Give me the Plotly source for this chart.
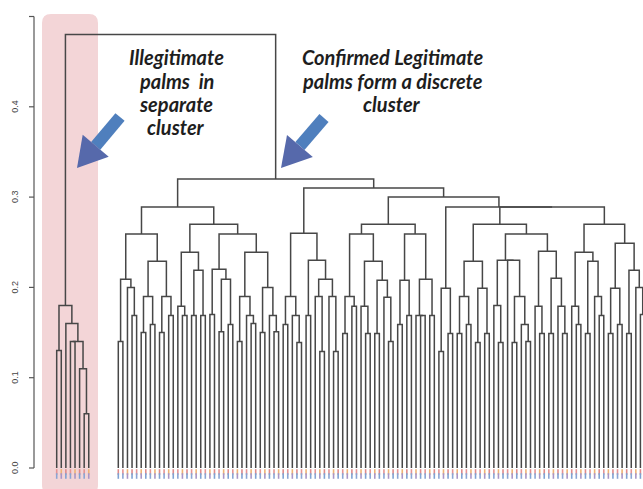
import plotly.graph_objects as go

# Merge heights of the cluster tree: a node is (height, left, right), a leaf is 0.
ILLEGITIMATE = (0.18, (0.13, 0, 0),
                (0.16, 0, (0.14, (0.14, 0, 0), (0.11, 0, (0.06, 0, 0)))))

BRANCH_LL = (0.259,
             (0.209, (0.14, 0, 0), (0.20, 0, (0.169, 0, 0))),
             (0.229, (0.19, (0.15, 0, 0), (0.159, 0, 0)),
                     (0.19, (0.15, 0, 0), (0.169, 0, 0))))

BRANCH_LR = (0.27,
             (0.239, (0.179, 0, (0.169, 0, 0)),
                     (0.219, (0.169, 0, 0), (0.169, 0, 0))),
             (0.259,
              (0.22, (0.17, 0, 0), (0.209, (0.151, 0, 0), (0.159, 0, 0))),
              (0.239,
               (0.19, (0.14, 0, 0), (0.169, 0, (0.16, 0, 0))),
               (0.20, (0.15, 0, 0), (0.169, 0, (0.151, 0, 0))))))

BRANCH_RL = (0.26,
             (0.19, (0.159, 0, 0), (0.169, 0, (0.139, 0, 0))),
             (0.23, (0.169, 0, 0),
                    (0.209, (0.19, 0, (0.129, 0, 0)), (0.19, 0, (0.129, 0, 0)))))

BRANCH_RRL = (0.27,
              (0.259,
               (0.19, (0.149, 0, 0), (0.179, 0, 0)),
               (0.229, (0.179, 0, (0.149, 0, 0)),
                       (0.208, (0.149, 0, 0), (0.189, 0, (0.14, 0, 0))))),
              (0.259,
               (0.208, (0.159, 0, 0), (0.169, 0, 0)),
               (0.209, (0.169, 0, (0.169, 0, 0)), (0.169, 0, 0))))

BRANCH_RRRA = (0.199, (0.129, 0, 0), (0.149, 0, 0))

BRANCH_RRRB = (0.27,
               (0.229, (0.19, (0.149, 0, 0), (0.159, 0, 0)),
                       (0.199, (0.139, 0, 0), (0.149, 0, 0))),
               (0.259,
                (0.23, (0.18, 0, (0.139, 0, 0)),
                       (0.23, 0, (0.19, (0.139, 0, 0), (0.159, 0, (0.14, 0, 0))))),
                (0.24, (0.179, 0, (0.149, 0, 0)),
                       (0.21, (0.149, 0, 0), (0.179, 0, (0.149, 0, 0))))))

BRANCH_RRRC = (0.27,
               (0.239, (0.179, 0, (0.159, 0, 0)),
                       (0.229, (0.149, 0, 0), (0.19, 0, (0.169, 0, 0)))),
               (0.249, (0.199, (0.149, 0, 0), (0.159, 0, 0)),
                       (0.219, (0.149, 0, 0), (0.20, 0, (0.17, 0, 0)))))

# upper merges of the legitimate cluster
H_RRR_INNER = 0.289
H_RRR = 0.289
H_RR = 0.30
H_R = 0.31
H_L = 0.289
H_MAIN = 0.32
H_ROOT = 0.48

MAIN = (H_MAIN,
        (H_L, BRANCH_LL, BRANCH_LR),
        (H_R, BRANCH_RL,
         (H_RR, BRANCH_RRL,
          (H_RRR, BRANCH_RRRA, (H_RRR_INNER, BRANCH_RRRB, BRANCH_RRRC)))))

Y_TICKS = [0.0, 0.1, 0.2, 0.3, 0.4]
Y_TICK_TEXT = ["0.0", "0.1", "0.2", "0.3", "0.4"]
LABEL_TOP_COLORS = ["#e59393", "#eeb374", "#df8a8a"]
LABEL_BOTTOM_COLORS = ["#8aa5d4", "#a996c6", "#7fa2d2"]

W, H = 643, 489
CLUSTER_GAP = 5.45          # empty leaf slots between the two clusters
PX_PER_LEAF = 4.58
FIRST_MAIN_PX = 118.3
Y0_PX, PX_PER_UNIT = 468.0, 903.0

segments_x, segments_y, leaves = [], [], []


def place(node, pos):
    """Assign leaf positions in order and collect the elbow segments."""
    if node == 0:
        x = pos[0]
        pos[0] += 1
        leaves.append(x)
        return x, 0.0
    h, a, b = node
    xa, ha = place(a, pos)
    xb, hb = place(b, pos)
    segments_x.extend([xa, xa, xb, xb, None])
    segments_y.extend([ha, h, h, hb, None])
    return (xa + xb) / 2.0, h


pos = [0.0]
x_ill, h_ill = place(ILLEGITIMATE, pos)
pos[0] += CLUSTER_GAP
first_main = pos[0]
x_main, h_main = place(MAIN, pos)
segments_x.extend([x_ill, x_ill, x_main, x_main, None])
segments_y.extend([h_ill, H_ROOT, H_ROOT, h_main, None])

# axis ranges so that the drawing sits on the page in pixel terms
x_lo = first_main - FIRST_MAIN_PX / PX_PER_LEAF
x_hi = first_main + (W - FIRST_MAIN_PX) / PX_PER_LEAF
y_lo = (Y0_PX - H) / PX_PER_UNIT
y_hi = Y0_PX / PX_PER_UNIT


def paper(px, py):
    return px / W, 1 - py / H


def path_from(points):
    pts = [paper(x, y) for x, y in points]
    return "M " + " L ".join(f"{x:.5f},{y:.5f}" for x, y in pts) + " Z"


def arrow_shapes(tail, tip, shaft=12, head_w=34, head_len=29):
    dx, dy = tip[0] - tail[0], tip[1] - tail[1]
    n = (dx * dx + dy * dy) ** 0.5
    ux, uy = dx / n, dy / n
    nx, ny = -uy, ux
    bx, by = tip[0] - ux * head_len, tip[1] - uy * head_len
    s, hw = shaft / 2, head_w / 2
    shaft_pts = [(tail[0] + nx * s, tail[1] + ny * s), (bx + nx * s, by + ny * s),
                 (bx - nx * s, by - ny * s), (tail[0] - nx * s, tail[1] - ny * s)]
    head_pts = [(bx + nx * hw, by + ny * hw), tip, (bx - nx * hw, by - ny * hw)]
    return [
        dict(type="path", xref="paper", yref="paper", path=path_from(shaft_pts),
             fillcolor="#4f7fbd", line=dict(width=0), layer="above"),
        dict(type="path", xref="paper", yref="paper", path=path_from(head_pts),
             fillcolor="#5669ab", line=dict(width=0), layer="above"),
    ]


def rounded_rect(x0, y0, x1, y1, r):
    p = lambda x, y: "%.5f,%.5f" % paper(x, y)
    return (f"M {p(x0 + r, y0)} L {p(x1 - r, y0)} Q {p(x1, y0)} {p(x1, y0 + r)} "
            f"L {p(x1, y1 - r)} Q {p(x1, y1)} {p(x1 - r, y1)} L {p(x0 + r, y1)} "
            f"Q {p(x0, y1)} {p(x0, y1 - r)} L {p(x0, y0 + r)} Q {p(x0, y0)} {p(x0 + r, y0)} Z")


fig = go.Figure()
fig.add_trace(go.Scatter(x=segments_x, y=segments_y, mode="lines",
                         line=dict(color="#474747", width=1.5),
                         hoverinfo="skip"))

label_y_top = (Y0_PX - 472) / PX_PER_UNIT
label_y_bot = (Y0_PX - 476) / PX_PER_UNIT
fig.add_trace(go.Scatter(
    x=leaves, y=[label_y_top] * len(leaves), mode="markers",
    marker=dict(symbol="line-ns", size=4,
                line=dict(width=1.6, color=[LABEL_TOP_COLORS[i % 3] for i in range(len(leaves))])),
    hoverinfo="skip"))
fig.add_trace(go.Scatter(
    x=leaves, y=[label_y_bot] * len(leaves), mode="markers",
    marker=dict(symbol="line-ns", size=4,
                line=dict(width=1.6, color=[LABEL_BOTTOM_COLORS[i % 3] for i in range(len(leaves))])),
    hoverinfo="skip"))

shapes = [dict(type="path", xref="paper", yref="paper",
               path=rounded_rect(42, 14, 98, 494, 9),
               fillcolor="#f3d5d7", line=dict(width=0), layer="below")]

# left-hand axis in base-graphics style
axis_x = 34
shapes.append(dict(type="line", xref="paper", yref="y", x0=axis_x / W, x1=axis_x / W,
                   y0=0, y1=0.5, line=dict(color="#555555", width=1.2)))
for t in Y_TICKS + [0.5]:
    shapes.append(dict(type="line", xref="paper", yref="y", x0=29 / W, x1=axis_x / W,
                       y0=t, y1=t, line=dict(color="#555555", width=1.2)))

shapes += arrow_shapes((120, 117), (77, 168))
shapes += arrow_shapes((324, 118), (281, 168))

annotations = []
for t, txt in zip(Y_TICKS, Y_TICK_TEXT):
    annotations.append(dict(x=15 / W, xref="paper", y=t, yref="y", text=txt,
                            textangle=-90, showarrow=False,
                            font=dict(family="Liberation Sans", size=9, color="#444444"),
                            xanchor="center", yanchor="middle"))

note_font = dict(family="Lato", size=20, color="#1e1e1e")
left_lines = [("<b><i>Illegitimate</i></b>", 57),
              ("<b><i>palms\u00a0\u00a0in</i></b>", 81),
              ("<b><i>separate</i></b>", 104),
              ("<b><i>cluster</i></b>", 127)]
right_lines = [("<b><i>Confirmed Legitimate</i></b>", 57),
               ("<b><i>palms form a discrete</i></b>", 81),
               ("<b><i>cluster</i></b>", 104)]
for txt, py in left_lines:
    annotations.append(dict(x=176 / W, y=1 - py / H, xref="paper", yref="paper",
                            text=txt, showarrow=False, font=note_font,
                            xanchor="center", yanchor="middle"))
for txt, py in right_lines:
    annotations.append(dict(x=392 / W, y=1 - py / H, xref="paper", yref="paper",
                            text=txt, showarrow=False, font=note_font,
                            xanchor="center", yanchor="middle"))

fig.update_layout(
    width=W, height=H, margin=dict(l=0, r=0, t=0, b=0),
    paper_bgcolor="white", plot_bgcolor="white", showlegend=False,
    xaxis=dict(range=[x_lo, x_hi], visible=False, fixedrange=True),
    yaxis=dict(range=[y_lo, y_hi], visible=False, fixedrange=True),
    shapes=shapes, annotations=annotations,
)

fig.write_html("out.html")
